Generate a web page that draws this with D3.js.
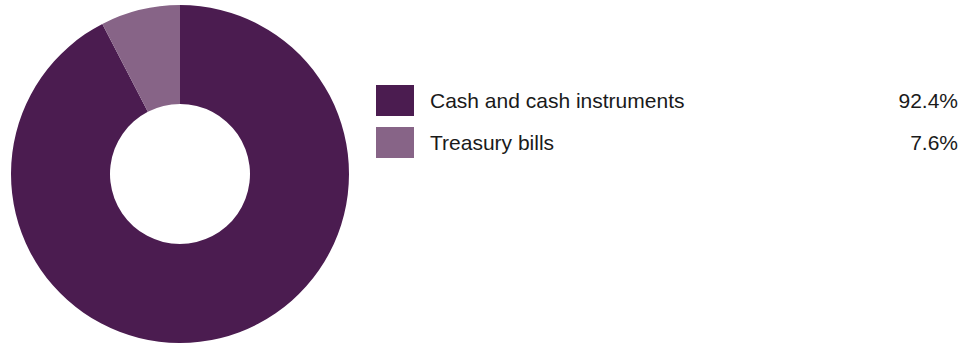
<!DOCTYPE html>
<html>
<head>
<meta charset="utf-8">
<script src="https://cdn.jsdelivr.net/npm/d3@7"></script>
<style>
  html, body { margin: 0; padding: 0; background: #fff; }
  svg { display: block; }
  text { font-family: "Liberation Sans", Arial, sans-serif; fill: #1a1a1a; }
</style>
</head>
<body>
<svg id="chart" width="964" height="345"></svg>
<script>
const categories = ["Cash and cash instruments", "Treasury bills"];
const values = [92.4, 7.6];
const valueLabels = ["92.4%", "7.6%"];
const colors = ["#4b1c50", "#876487"];

const svg = d3.select("#chart");
const cx = 180, cy = 174, outerR = 169, innerR = 70;

const pie = d3.pie().sort(null).value(d => d.value);
const arc = d3.arc().innerRadius(innerR).outerRadius(outerR);
const data = categories.map((c, i) => ({ name: c, value: values[i], label: valueLabels[i], color: colors[i] }));

// Donut
svg.append("g")
  .attr("transform", `translate(${cx},${cy})`)
  .selectAll("path")
  .data(pie(data))
  .join("path")
  .attr("d", arc)
  .attr("fill", d => d.color || d.data.color);

// Legend rows: swatch, name, share
const rowY = d3.scalePoint().domain(categories).range([85, 127]);
const rows = svg.append("g").selectAll("g").data(data).join("g")
  .attr("transform", d => `translate(0,${rowY(d.name)})`);
rows.append("rect")
  .attr("x", 376).attr("y", 0).attr("width", 38).attr("height", 31)
  .attr("fill", d => d.color);
rows.append("text")
  .attr("x", 430).attr("y", 16).attr("dy", "0.35em")
  .attr("font-size", 21)
  .text(d => d.name);
rows.append("text")
  .attr("x", 958).attr("y", 16).attr("dy", "0.35em")
  .attr("font-size", 21)
  .attr("text-anchor", "end")
  .text(d => d.label);
</script>
</body>
</html>
